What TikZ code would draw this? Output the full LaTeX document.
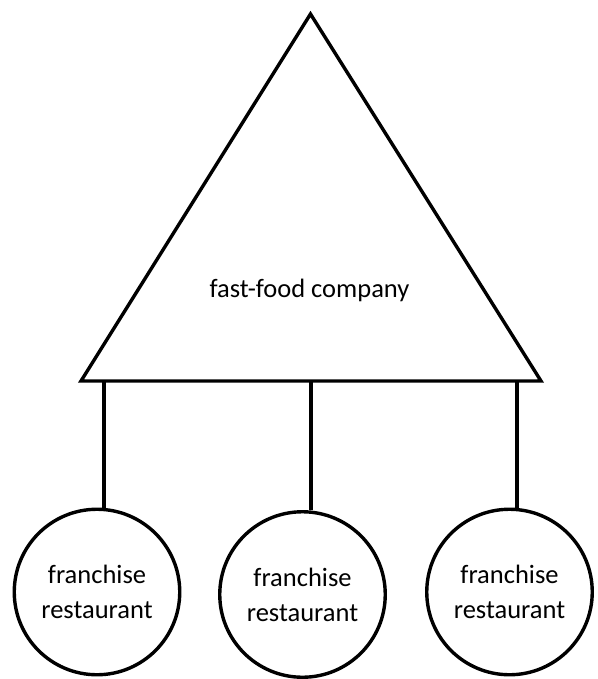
\documentclass[tikz,border=0pt]{standalone}
\usepackage{fontspec}
\setmainfont{Carlito}
\begin{document}
\begin{tikzpicture}[x=1pt,y=-1pt,
  outline/.style={draw=black,line width=3.4pt},
  unit/.style={outline,circle,minimum size=165.5pt,inner sep=0pt,align=center,
    font=\fontsize{26.5}{35}\selectfont},
  label/.style={font=\fontsize{26.5}{35}\selectfont,inner sep=0pt}]
\useasboundingbox (0,0) rectangle (597,679);
\coordinate (apex) at (310.5,14);
\coordinate (bl) at (81,381);
\coordinate (br) at (541,381);
\draw[outline,line join=miter] (apex) -- (br) -- (bl) -- cycle;
\node[label,anchor=base] (company) at (309.5,297) {fast-food company};
\coordinate (b1) at (104,381);
\coordinate (b2) at (311,381);
\coordinate (b3) at (517,381);
\node[unit] (r1) at (97,592) {franchise\\restaurant};
\node[unit] (r2) at (302.5,594.5) {franchise\\restaurant};
\node[unit] (r3) at (509.5,592) {franchise\\restaurant};
\draw[outline] (b1) -- (b1 |- r1.north);
\draw[outline] (b2) -- (b2 |- r2.north);
\draw[outline] (b3) -- (b3 |- r3.north);
\end{tikzpicture}
\end{document}
